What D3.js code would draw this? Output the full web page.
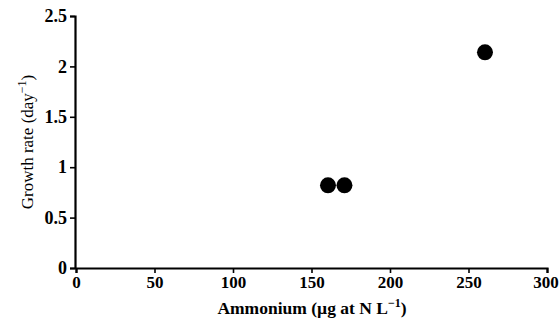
<!DOCTYPE html>
<html>
<head>
<meta charset="utf-8">
<script src="https://cdn.jsdelivr.net/npm/d3@7"></script>
<style>
  body { margin: 0; background: #fff; }
</style>
</head>
<body>
<div id="chart"></div>
<script>
// data
const ammonium = [160.5, 171, 260.5];
const growthRate = [0.82, 0.82, 2.14];
const xTicks = [0, 50, 100, 150, 200, 250, 300];
const yTicks = [0, 0.5, 1, 1.5, 2, 2.5];

const serif = "'Liberation Serif'";

var margin = {top: 16, right: 12, bottom: 62, left: 75},
    width = 559 - margin.left - margin.right,
    height = 330 - margin.top - margin.bottom;

var x = d3.scaleLinear().domain([0, 300]).range([1, width]);
var y = d3.scaleLinear().domain([0, 2.5]).range([height, 0]);

var svg = d3.select("#chart").append("svg")
    .attr("width", 559)
    .attr("height", 330)
  .append("g")
    .attr("transform", "translate(" + margin.left + "," + margin.top + ")");

// x axis
var gx = svg.append("g")
    .attr("transform", "translate(0," + height + ")")
    .call(d3.axisBottom(x).tickValues(xTicks).tickFormat(d3.format("d")).tickSize(5).tickPadding(3));

// y axis
var gy = svg.append("g")
    .call(d3.axisLeft(y).tickValues(yTicks).tickFormat(d => d).tickSize(5).tickPadding(3));

[gx, gy].forEach(function(g) {
  g.attr("font-family", null).attr("font-size", null);
  g.select(".domain").attr("stroke", "#000").attr("stroke-width", 2.2);
  g.selectAll(".tick line").attr("stroke", "#000").attr("stroke-width", 1.6);
  g.selectAll(".tick text")
      .style("font-family", serif)
      .style("font-size", "18px")
      .style("font-weight", "bold")
      .attr("fill", "#000");
});
// keep the last x label inside the page
gx.selectAll(".tick text").style("font-size", "17px")
    .filter(d => d === 300).attr("dx", -1.5);

// points
var pts = ammonium.map((a, i) => ({ a: a, g: growthRate[i] }));
svg.selectAll("circle.pt")
    .data(pts)
  .enter().append("circle")
    .attr("class", "pt")
    .attr("cx", d => x(d.a))
    .attr("cy", d => y(d.g))
    .attr("r", 8)
    .attr("fill", "#000");

// axis titles
var xt = svg.append("text")
    .attr("x", 237)
    .attr("y", height + 46)
    .attr("text-anchor", "middle")
    .style("font-family", serif)
    .style("font-size", "17.5px")
    .style("font-weight", "bold");
xt.append("tspan").text("Ammonium (µg at N L");
xt.append("tspan").attr("dy", -7).style("font-size", "12px").text("−1");
xt.append("tspan").attr("dy", 7).text(")");

var yt = svg.append("text")
    .attr("transform", "translate(-42," + 126 + ") rotate(-90)")
    .attr("text-anchor", "middle")
    .style("font-family", serif)
    .style("font-size", "17px");
yt.append("tspan").text("Growth rate (day");
yt.append("tspan").attr("dy", -7).style("font-size", "12px").text("−1");
yt.append("tspan").attr("dy", 7).text(")");
</script>
</body>
</html>
